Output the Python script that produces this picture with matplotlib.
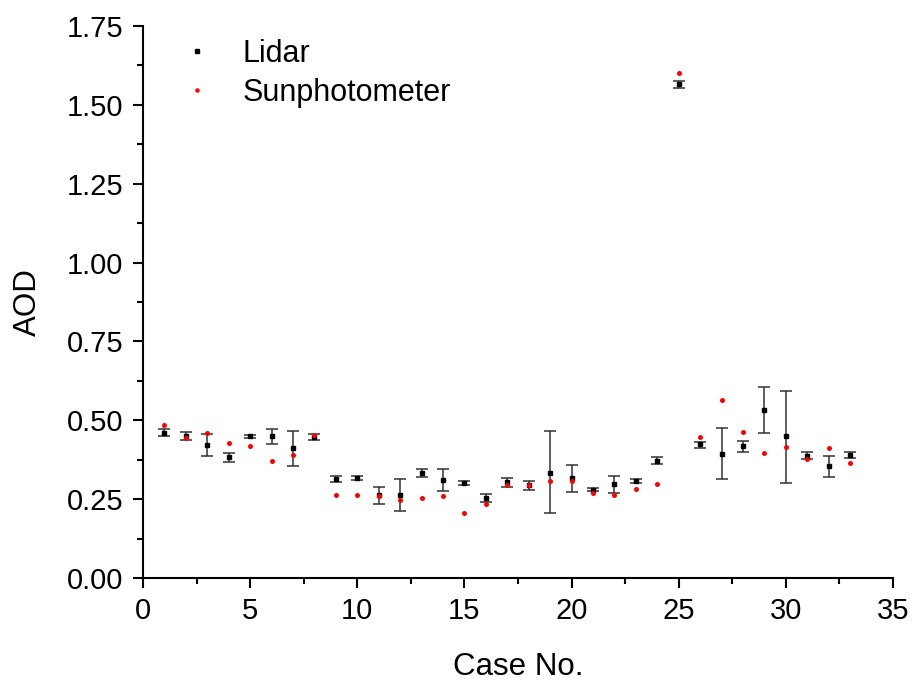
import matplotlib
matplotlib.use('Agg')
import numpy as np
from matplotlib import pyplot as plt
from matplotlib.ticker import MultipleLocator, FormatStrFormatter

FIGSIZE = (9.15, 6.84)
TICKSIZE = 21
LABELSIZE = 22.5
LEGENDSIZE = 22

cases = list(range(1, 34))
lidar = [0.461, 0.451, 0.422, 0.383, 0.450, 0.450, 0.411, 0.448, 0.315, 0.317,
         0.263, 0.263, 0.334, 0.311, 0.301, 0.255, 0.303, 0.295, 0.334, 0.316,
         0.280, 0.299, 0.309, 0.372, 1.565, 0.424, 0.394, 0.419, 0.532, 0.450,
         0.388, 0.356, 0.390]
lidar_hi = [0.471, 0.462, 0.456, 0.395, 0.454, 0.472, 0.465, 0.457, 0.322, 0.324,
            0.289, 0.314, 0.345, 0.346, 0.308, 0.267, 0.317, 0.306, 0.465, 0.357,
            0.284, 0.324, 0.313, 0.383, 1.577, 0.432, 0.475, 0.435, 0.607, 0.593,
            0.398, 0.388, 0.398]
lidar_lo = [0.449, 0.439, 0.387, 0.368, 0.444, 0.425, 0.356, 0.438, 0.305, 0.310,
            0.236, 0.212, 0.320, 0.276, 0.294, 0.240, 0.288, 0.279, 0.205, 0.273,
            0.275, 0.271, 0.302, 0.361, 1.553, 0.413, 0.313, 0.400, 0.460, 0.302,
            0.376, 0.321, 0.380]
sunphotometer = [0.484, 0.443, 0.459, 0.429, 0.420, 0.371, 0.390, 0.452, 0.264, 0.264,
                 0.260, 0.246, 0.253, 0.260, 0.205, 0.234, 0.296, 0.294, 0.308, 0.307,
                 0.271, 0.262, 0.282, 0.297, 1.601, 0.447, 0.563, 0.462, 0.395, 0.415,
                 0.377, 0.412, 0.364]

plt.rcParams['font.family'] = ['Liberation Sans', 'DejaVu Sans']

fig = plt.figure(figsize=FIGSIZE, dpi=100)
ax = fig.add_axes([143/915, 1 - 578/684, 750/915, 552/684])

yerr = [np.array(lidar) - np.array(lidar_lo), np.array(lidar_hi) - np.array(lidar)]
ax.errorbar(cases, lidar, yerr=yerr, fmt='none', ecolor='#333333',
            elinewidth=1.1, capsize=4, capthick=1.1, zorder=2)
ax.plot(cases, lidar, 's', color='black', ms=3, ls='none', label='Lidar', zorder=3)
ax.plot(cases, sunphotometer, 'o', color='red', ms=3.6, mec='none', ls='none',
        label='Sunphotometer', zorder=4)

ax.set_xlim(0, 35)
ax.set_ylim(0, 1.75)
ax.xaxis.set_major_locator(MultipleLocator(5))
ax.xaxis.set_minor_locator(MultipleLocator(2.5))
ax.yaxis.set_major_locator(MultipleLocator(0.25))
ax.yaxis.set_minor_locator(MultipleLocator(0.125))
ax.yaxis.set_major_formatter(FormatStrFormatter('%.2f'))

for side in ['top', 'right']:
  ax.spines[side].set_visible(False)
for side in ['left', 'bottom']:
  ax.spines[side].set_linewidth(1.5)

ax.tick_params(which='major', direction='out', length=7.5, width=1.5, labelsize=TICKSIZE, pad=6.5)
ax.tick_params(which='minor', direction='out', length=4, width=1.5)

ax.set_xlabel('Case No.', fontsize=LABELSIZE, labelpad=19)
ax.set_ylabel('AOD', fontsize=LABELSIZE, labelpad=17)

ax.legend(loc='upper left', bbox_to_anchor=(0.015, 1.027), frameon=False,
          fontsize=LEGENDSIZE, handlelength=1.0, handletextpad=1.0, labelspacing=0.3,
          markerscale=0.9)

fig.savefig('out.png', dpi=100)
